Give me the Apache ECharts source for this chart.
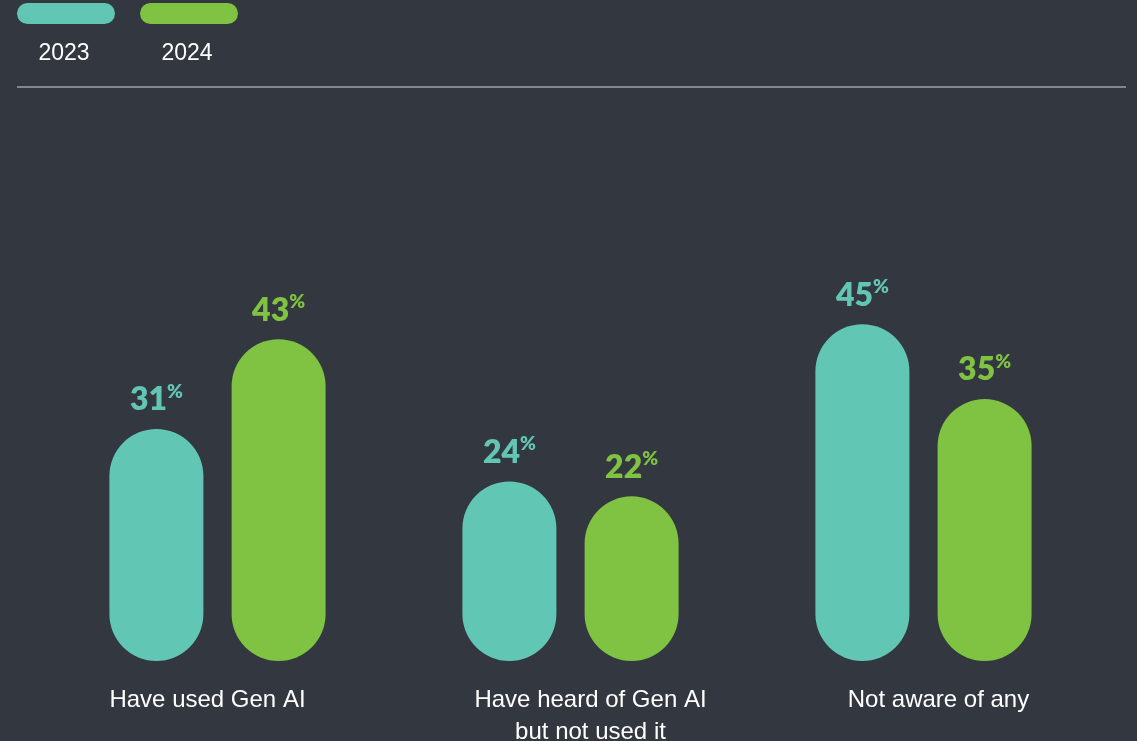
<!DOCTYPE html>
<html>
<head>
<meta charset="utf-8">
<title>Gen AI awareness</title>
<script src="https://cdn.jsdelivr.net/npm/echarts@6/dist/echarts.min.js"></script>
<style>
  html, body { margin: 0; padding: 0; background: #333740; }
  #chartContainer { width: 1137px; height: 741px; }
</style>
</head>
<body>
<div id="chartContainer"></div>
<script>
// categories and values (percent)
const categories = ["Have used Gen AI", "Have heard of Gen AI\nbut not used it", "Not aware of any"];
const seriesNames = ["2023", "2024"];
const values2023 = [31, 24, 45];
const values2024 = [43, 22, 35];
const colors = ["#62c6b5", "#80c241"];

// small horizontal nudges of the category labels (px), as in the original layout
const labelShift = [-10, 20, 15];

// label on top of each pill: big number + small raised %
const makeLabel = (color) => ({
  show: true,
  position: "top",
  distance: 13,
  formatter: (p) => "{n|" + p.value + "}{p|%}",
  rich: {
    n: { fontFamily: "Lato", fontWeight: 800, fontSize: 32, color: color, lineHeight: 34, verticalAlign: "bottom" },
    p: { fontFamily: "Lato", fontWeight: 800, fontSize: 19, color: color, lineHeight: 34, verticalAlign: "top", padding: [0, 0, 9, 0] },
  },
});

const makeSeries = (name, data, color) => ({
  name: name,
  type: "bar",
  data: data,
  barWidth: 94,
  barGap: "30%",
  itemStyle: { color: color, borderRadius: 47 },
  label: makeLabel(color),
});

// legend drawn by hand: pill on top, year below
const legendGraphics = [];
seriesNames.forEach((name, i) => {
  const x = 17 + i * 123;
  legendGraphics.push({
    type: "rect",
    shape: { x: x, y: 3, width: 98, height: 21, r: 10.5 },
    style: { fill: colors[i] },
  });
  legendGraphics.push({
    type: "text",
    x: x + 47,
    y: 54,
    style: {
      text: name,
      fill: "#ffffff",
      font: "23px 'Liberation Sans', Arial, sans-serif",
      textAlign: "center",
      textVerticalAlign: "middle",
    },
  });
});
// divider line under the legend
legendGraphics.push({
  type: "line",
  shape: { x1: 17, y1: 87, x2: 1126, y2: 87 },
  style: { stroke: "#a0a2a6", lineWidth: 1.5 },
});

// rich styles for the category labels, one per category
const catRich = {};
labelShift.forEach((dx, i) => {
  catRich["c" + i] = {
    color: "#ffffff",
    fontSize: 24,
    lineHeight: 32,
    fontFamily: "'Liberation Sans', Arial, sans-serif",
    padding: dx >= 0 ? [0, 0, 0, dx * 2] : [0, -dx * 2, 0, 0],
  };
});

const myChart = echarts.init(document.getElementById("chartContainer"));
const option = {
  backgroundColor: "#333740",
  animation: false,
  grid: { left: 41, width: 1059, top: 212, height: 449, outerBoundsMode: "none", containLabel: false },
  xAxis: {
    type: "category",
    data: categories,
    axisLine: { show: false },
    axisTick: { show: false },
    axisLabel: {
      margin: 23,
      interval: 0,
      formatter: (value, idx) =>
        value.split("\n").map((line) => "{c" + idx + "|" + line + "}").join("\n"),
      rich: catRich,
    },
  },
  yAxis: {
    type: "value",
    min: 0,
    max: 60,
    show: false,
    splitLine: { show: false },
  },
  graphic: legendGraphics,
  series: [
    makeSeries(seriesNames[0], values2023, colors[0]),
    makeSeries(seriesNames[1], values2024, colors[1]),
  ],
};
myChart.setOption(option);
</script>
</body>
</html>
